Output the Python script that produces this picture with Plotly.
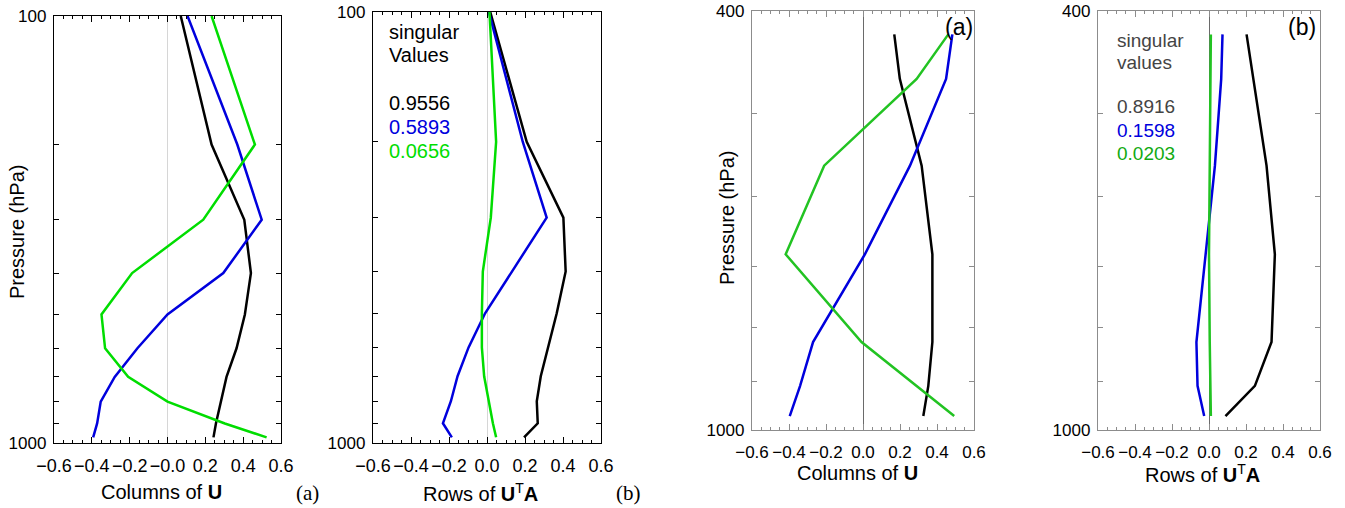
import plotly.graph_objects as go

W, H = 1345, 508

# ---------------- data ----------------
# Left pair of panels (pressure levels, hPa)
lev_left = [100, 200, 300, 400, 500, 600, 700, 800, 900, 970]
u1_black = [0.070, 0.233, 0.406, 0.441, 0.409, 0.365, 0.312, 0.282, 0.256, 0.243]
u1_blue = [0.106, 0.369, 0.498, 0.295, 0.000, -0.159, -0.279, -0.353, -0.372, -0.393]
u1_green = [0.233, 0.462, 0.189, -0.187, -0.349, -0.330, -0.208, 0.000, 0.303, 0.524]

r1_black = [0.017, 0.209, 0.402, 0.414, 0.367, 0.323, 0.283, 0.262, 0.267, 0.195]
r1_blue = [0.010, 0.188, 0.314, 0.132, -0.010, -0.097, -0.155, -0.190, -0.232, -0.185]
r1_green = [0.013, 0.048, 0.020, -0.022, -0.027, -0.027, -0.015, 0.008, 0.031, 0.048]
sv_left = ["0.9556", "0.5893", "0.0656"]

# Right pair of panels
lev_right = [421, 464, 561, 681, 825, 908, 970]
u2_black = [0.169, 0.199, 0.317, 0.375, 0.375, 0.353, 0.326]
u2_blue = [0.483, 0.449, 0.254, 0.010, -0.270, -0.340, -0.396]
u2_green = [0.461, 0.290, -0.210, -0.418, -0.008, 0.290, 0.493]

r2_black = [0.203, 0.239, 0.311, 0.356, 0.338, 0.248, 0.089]
r2_blue = [0.073, 0.066, 0.032, -0.019, -0.068, -0.062, -0.026]
r2_green = [0.010, 0.008, 0.004, 0.000, 0.004, 0.008, 0.010]
sv_right = ["0.8916", "0.1598", "0.0203"]

xticks = [-0.6, -0.4, -0.2, 0.0, 0.2, 0.4, 0.6]
xtick_text_a = ["\u22120.6", "\u22120.4", "\u22120.2", "\u22120.0", "0.2", "0.4", "0.6"]
xtick_text = ["\u22120.6", "\u22120.4", "\u22120.2", "0.0", "0.2", "0.4", "0.6"]
ytick_left = [100, 1000]
yminor_left = [200, 300, 400, 500, 600, 700, 800, 900]
ytick_right = [400, 1000]
yminor_right = [500, 600, 700, 800, 900]

# ---------------- layout helpers ----------------
def px(x):
    return x / W

def py(y):
    return 1 - y / H

panels = [
    # (x0, x1, ytop, ybottom)
    (54, 281, 16, 443),
    (373, 601, 12, 443),
    (752, 974, 11, 430),
    (1098, 1320, 11, 430),
]

BLUE = "#0000dd"
GREEN_A = "#00dd00"
GREEN_B = "#22c322"
FONT = "Liberation Sans, Arial, sans-serif"
LW = 2.5

fig = go.Figure()

series = [
    (1, lev_left, [(u1_black, "black"), (u1_blue, BLUE), (u1_green, GREEN_A)]),
    (2, lev_left, [(r1_black, "black"), (r1_blue, BLUE), (r1_green, GREEN_A)]),
    (3, lev_right, [(u2_black, "black"), (u2_blue, BLUE), (u2_green, GREEN_B)]),
    (4, lev_right, [(r2_black, "black"), (r2_blue, BLUE), (r2_green, GREEN_B)]),
]
for i, lev, lines in series:
    suffix = "" if i == 1 else str(i)
    for vals, col in lines:
        fig.add_trace(go.Scatter(x=vals, y=lev, mode="lines",
                                 line=dict(color=col, width=LW),
                                 xaxis="x" + suffix, yaxis="y" + suffix,
                                 showlegend=False, hoverinfo="skip"))

layout = dict(width=W, height=H, margin=dict(l=0, r=0, t=0, b=0, pad=0),
              autosize=False, paper_bgcolor="white", plot_bgcolor="white",
              showlegend=False, font=dict(family=FONT, color="black"))

for i, (x0, x1, yt, yb) in enumerate(panels, start=1):
    suffix = "" if i == 1 else str(i)
    left = i <= 2
    frame = "black" if left else "#8c8c8c"
    zc = "#d6d6d6" if left else "#6a6a6a"
    layout["xaxis" + suffix] = dict(
        domain=[px(x0), px(x1)], anchor="y" + suffix, automargin=False,
        range=[-0.6, 0.6], tickvals=xticks,
        ticktext=xtick_text_a if i == 1 else xtick_text,
        tickangle=0,
        ticks="inside", ticklen=6, tickwidth=1, tickcolor=frame,
        minor=dict(dtick=0.05, tick0=0, ticks="inside", ticklen=3,
                   tickwidth=1, tickcolor=frame, showgrid=False),
        showline=True, linecolor=frame, linewidth=1.3, mirror="ticks",
        showgrid=False, zeroline=True, zerolinecolor=zc, zerolinewidth=1,
        tickfont=dict(family=FONT, size=18 if left else 17, color="black"),
        ticklabelstandoff=6, fixedrange=True)
    yvals = ytick_left if left else ytick_right
    yminor = yminor_left if left else yminor_right
    top = 2.0 if left else 2.6020599913
    layout["yaxis" + suffix] = dict(
        domain=[py(yb), py(yt)], anchor="x" + suffix, type="log",
        automargin=False,
        range=[3.0, top], tickmode="array", tickvals=yvals,
        ticktext=[str(v) for v in yvals],
        ticks="inside", ticklen=5, tickwidth=1, tickcolor=frame,
        minor=dict(tickmode="array", tickvals=yminor, ticks="inside",
                   ticklen=5, tickwidth=1, tickcolor=frame, showgrid=False),
        showline=True, linecolor=frame, linewidth=1.3, mirror="ticks",
        showgrid=False, zeroline=False,
        tickfont=dict(family=FONT, size=17, color="black"),
        ticklabelstandoff=3, fixedrange=True)

ann = []

def text(x, y, s, size=19, color="black", family=FONT, xanchor="center", angle=0):
    ann.append(dict(x=px(x), y=py(y), xref="paper", yref="paper", text=s,
                    showarrow=False, xanchor=xanchor, yanchor="middle",
                    textangle=angle,
                    font=dict(family=family, size=size, color=color)))

# axis titles
text(17, 232, "Pressure (hPa)", size=20, angle=-90)
text(727, 218, "Pressure (hPa)", size=20, angle=-90)
text(161, 492, "Columns of <b>U</b>", size=20)
text(480, 492, "Rows of <b>U</b><sup>T</sup><b>A</b>", size=20)
text(857, 473, "Columns of <b>U</b>", size=20)
text(1202, 473, "Rows of <b>U</b><sup>T</sup><b>A</b>", size=20)

# panel letters
SERIF = "Liberation Serif, Times New Roman, serif"
text(307, 493, "(a)", size=21, family=SERIF)
text(628, 493, "(b)", size=21, family=SERIF)
text(959, 27, "(a)", size=23)
text(1302, 27, "(b)", size=23)

# singular values
text(387, 32, "singular", size=20, xanchor="left")
text(387, 55, "Values", size=20, xanchor="left")
for s, y, c in zip(sv_left, [103, 127, 151], ["black", BLUE, GREEN_A]):
    text(387, y, s, size=20, xanchor="left", color=c)

GRAY = "#444444"
text(1115, 41, "singular", xanchor="left", color=GRAY)
text(1115, 62, "values", xanchor="left", color=GRAY)
for s, y, c in zip(sv_right, [107, 130, 153], [GRAY, BLUE, "#11aa11"]):
    text(1115, y, s, xanchor="left", color=c)

layout["annotations"] = ann
fig.update_layout(**layout)
fig.write_html("out.html")
